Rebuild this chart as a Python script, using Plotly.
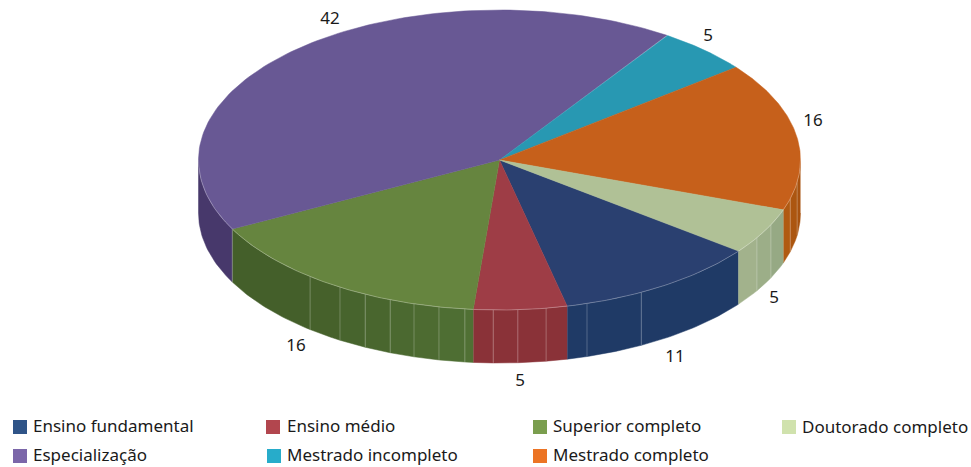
import numpy as np
import plotly.graph_objects as go

categories = ["Ensino fundamental", "Ensino médio", "Superior completo", "Especialização",
              "Mestrado incompleto", "Mestrado completo", "Doutorado completo"]
values = [11, 5, 16, 42, 5, 16, 5]

top_colors = ["#2a4070", "#9e3d46", "#66853f", "#685894", "#2898b2", "#c6601b", "#b0c196"]
wall_start = ["#1f3a66", "#8a3238", "#507034", "#47386b", "#1f7d94", "#a8520f", "#96a984"]
wall_end = ["#1f3a66", "#8a3238", "#445f2a", "#47386b", "#1f7d94", "#b05a12", "#a2b28c"]
legend_colors = ["#2f5488", "#b2464e", "#7a9e4e", "#7b66a9", "#27acca", "#ec7424", "#d0e2ad"]

# layout constants (pixel space of the hidden axes)
CX, CY, RX, RY, DEPTH = 499.5, 160.0, 301.0, 150.0, 53.0
START = 37.4
FACET_ANGLES = [8.6, 15, 25.6, 31.2, 61.9, 73.1, 81.1, 86.5, 91.2, 96.6, 101.6, 106.5, 111.3, 116.5, 122, 129]
LABEL_POS = [(675, 358), (520, 382), (296, 347), (330, 20), (708, 37), (813, 122), (774, 299)]
SWATCH_POS = [(20, 427), (273, 427), (540, 427), (20, 456), (274, 456), (540, 456), (789, 427)]
TEXT_X = [33, 287, 553, 33, 287, 553, 802]
TEXT_Y = [428, 428, 428, 457, 457, 457, 429]
FONT = "Noto Sans"
FS = 17


def ell(a, dy=0.0):
    a = np.radians(np.asarray(a, dtype=float))
    return CX + RX * np.cos(a), CY + RY * np.sin(a) + dy


def mix(c1, c2, t):
    a = [int(c1[i:i + 2], 16) for i in (1, 3, 5)]
    b = [int(c2[i:i + 2], 16) for i in (1, 3, 5)]
    return "#%02x%02x%02x" % tuple(round(p + (q - p) * t) for p, q in zip(a, b))


def poly(xs, ys, color):
    return go.Scatter(x=list(xs), y=list(ys), mode="lines", fill="toself", fillcolor=color,
                      line=dict(color=color, width=0.5), hoverinfo="skip")


fig = go.Figure()
edges = START + np.concatenate([[0], np.cumsum(values)]) * 3.6

# side walls: only the part of each slice facing the viewer (0-180 deg)
for i, v in enumerate(values):
    a0, a1 = edges[i], edges[i + 1]
    if a1 > 360:
        a0, a1 = max(a0 - 360, 0.0), a1 - 360
    s0, s1 = a0, min(a1, 180.0)
    if s1 <= s0:
        continue
    stops = [s0] + [f for f in FACET_ANGLES if s0 < f < s1] + [s1]
    n = len(stops) - 1
    for k in range(n):
        t = np.linspace(stops[k], stops[k + 1], 30)
        xt, yt = ell(t)
        xb, yb = ell(t[::-1], DEPTH)
        fig.add_trace(poly(np.r_[xt, xb], np.r_[yt, yb],
                           mix(wall_start[i], wall_end[i], k / max(n - 1, 1))))

# facet seams
for f in FACET_ANGLES + [float(edges[3])]:
    x0, y0 = ell(f)
    x1, y1 = ell(f, DEPTH)
    fig.add_trace(go.Scatter(x=[x0, x1], y=[y0, y1], mode="lines", hoverinfo="skip",
                             line=dict(color="rgba(255,255,255,0.3)", width=0.8)))

# top faces
for i, v in enumerate(values):
    t = np.linspace(edges[i], edges[i + 1], 120)
    x, y = ell(t)
    fig.add_trace(poly(np.r_[CX, x, CX], np.r_[CY, y, CY], top_colors[i]))

# front rim highlight
t = np.linspace(0, 180, 200)
x, y = ell(t)
fig.add_trace(go.Scatter(x=x, y=y, mode="lines", hoverinfo="skip",
                         line=dict(color="rgba(255,255,255,0.35)", width=0.8)))

# data labels
fig.add_trace(go.Scatter(x=[p[0] for p in LABEL_POS], y=[p[1] for p in LABEL_POS], mode="text",
                         text=[str(v) for v in values], hoverinfo="skip",
                         textposition="middle center",
                         textfont=dict(family=FONT, size=FS, color="#1a1a1a")))

# legend
fig.add_trace(go.Scatter(x=[p[0] for p in SWATCH_POS], y=[p[1] for p in SWATCH_POS],
                         mode="markers", hoverinfo="skip",
                         marker=dict(symbol="square", size=14, color=legend_colors)))
fig.add_trace(go.Scatter(x=TEXT_X, y=TEXT_Y, mode="text", text=categories,
                         textposition="middle right", hoverinfo="skip",
                         textfont=dict(family=FONT, size=FS, color="#1a1a1a")))

fig.update_layout(width=971, height=467, margin=dict(l=0, r=0, t=0, b=0), showlegend=False,
                  paper_bgcolor="white", plot_bgcolor="white",
                  xaxis=dict(visible=False, range=[0, 971], fixedrange=True),
                  yaxis=dict(visible=False, range=[467, 0], fixedrange=True))
fig.write_html("out.html", config={"displayModeBar": False},
               post_script="document.body.style.margin='0';document.body.style.overflow='hidden';")
